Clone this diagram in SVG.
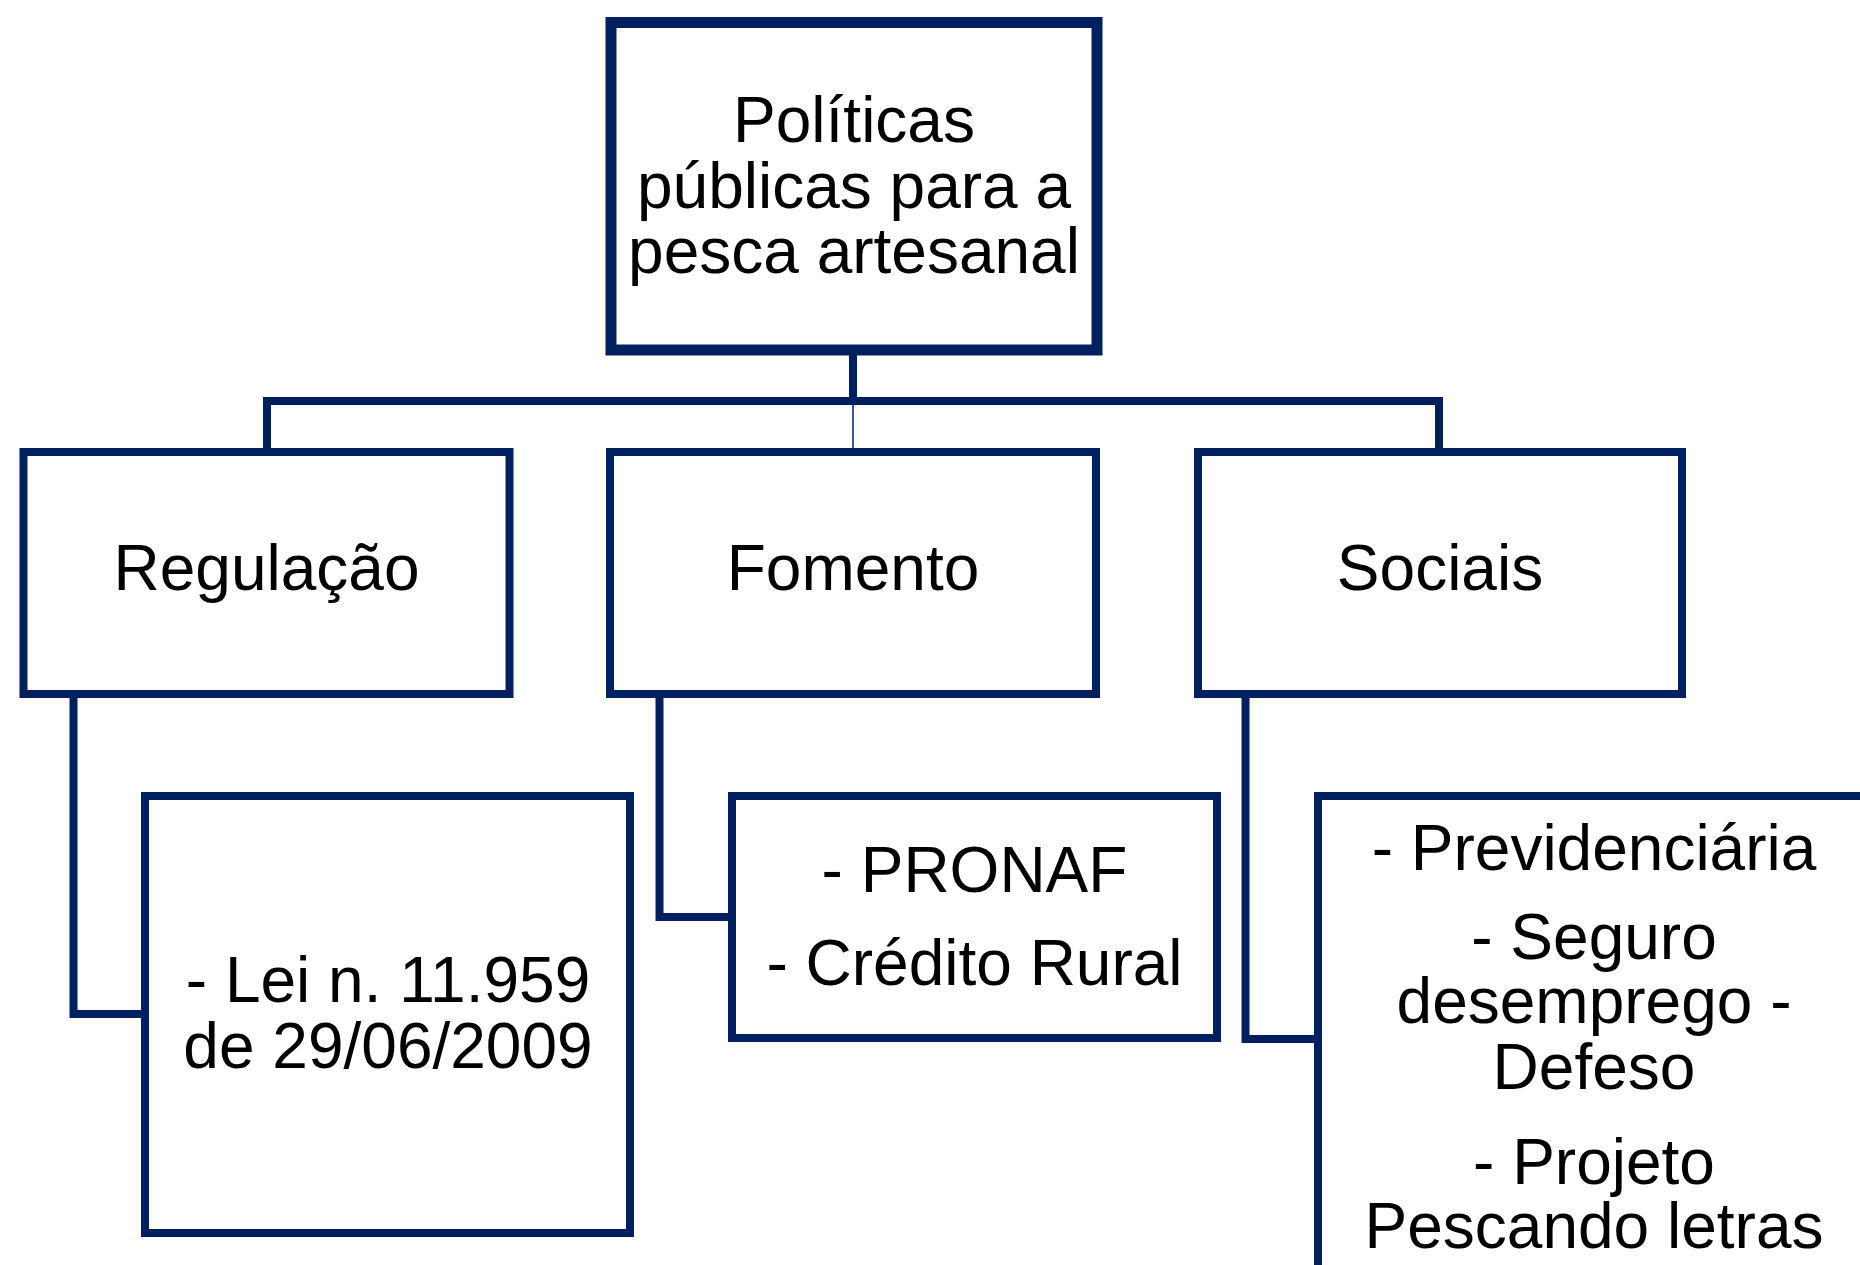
<svg xmlns="http://www.w3.org/2000/svg" width="1860" height="1265" viewBox="0 0 1860 1265">
<style>
.box{fill:#ffffff;stroke:#002060;stroke-width:8}
.main{stroke-width:11}
.con{fill:none;stroke:#002060;stroke-width:8;stroke-linecap:square}
.thin{fill:none;stroke:#3a5a95;stroke-width:2}
text{font-family:"Liberation Sans",Arial,sans-serif;font-size:64px;fill:#000000;text-anchor:middle}
</style>
<rect width="1860" height="1265" fill="#ffffff"/>
<g id="connectors">
<path class="con" d="M267 452 V401 H1439 V452"/>
<path class="con" d="M853 352 V401"/>
<path class="thin" d="M853 405 V452"/>
<path class="con" d="M73.5 698 V1014 H141"/>
<path class="con" d="M659.5 698 V917 H728"/>
<path class="con" d="M1245.5 698 V1039 H1314"/>
</g>
<g id="node-root">
<rect class="box main" x="611" y="22.5" width="486" height="327.5"/>
<text x="854" y="142">Políticas</text>
<text x="854" y="207.5">públicas para a</text>
<text x="854" y="273">pesca artesanal</text>
</g>
<g id="node-regulacao">
<rect class="box" x="23.5" y="452" width="486" height="242"/>
<text x="266.5" y="590">Regulação</text>
</g>
<g id="node-fomento">
<rect class="box" x="610" y="452" width="486" height="242"/>
<text x="853" y="590">Fomento</text>
</g>
<g id="node-sociais">
<rect class="box" x="1198" y="452" width="484" height="242"/>
<text x="1440" y="590">Sociais</text>
</g>
<g id="node-lei">
<rect class="box" x="145" y="796" width="485" height="437"/>
<text x="388" y="1002">- Lei n. 11.959</text>
<text x="388" y="1067.5">de 29/06/2009</text>
</g>
<g id="node-pronaf">
<rect class="box" x="732" y="796" width="485" height="242"/>
<text x="974.5" y="892">- PRONAF</text>
<text x="974.5" y="984.5">- Crédito Rural</text>
</g>
<g id="node-sociais-sub">
<rect class="box" x="1318" y="796" width="552" height="520"/>
<text x="1594" y="869.5">- Previdenciária</text>
<text x="1594" y="958.5">- Seguro</text>
<text x="1594" y="1022.5">desemprego -</text>
<text x="1594" y="1089">Defeso</text>
<text x="1594" y="1184">- Projeto</text>
<text x="1594" y="1248">Pescando letras</text>
</g>
</svg>
